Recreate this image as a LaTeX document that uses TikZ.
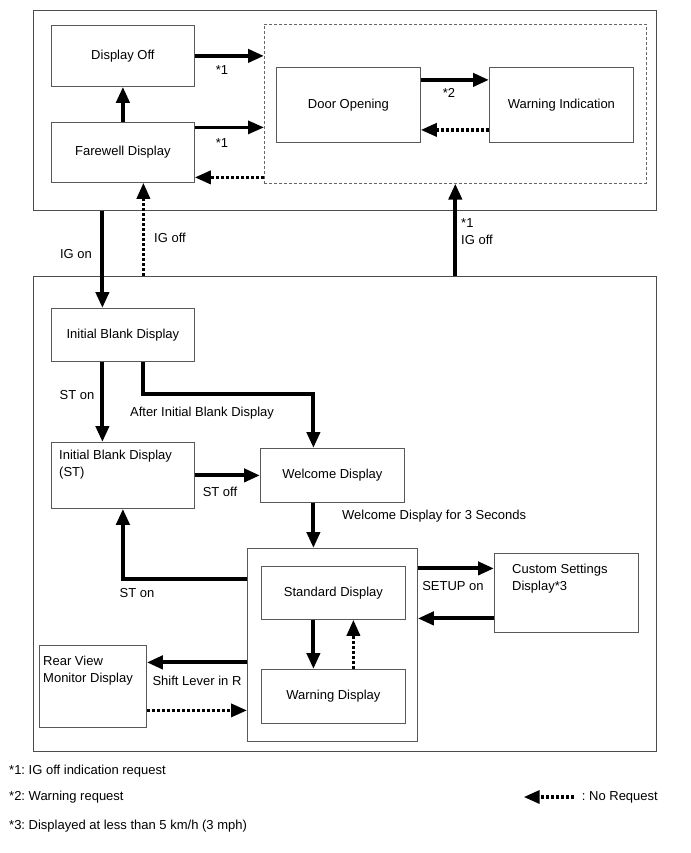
\documentclass[tikz,border=0pt]{standalone}
\usepackage{fontspec}
\setmainfont{Liberation Sans}
\usetikzlibrary{arrows.meta}
\frenchspacing

\tikzset{
  frame/.style={draw=black!70, line width=0.9pt, anchor=north west, inner sep=0pt},
  state/.style={draw=black!65, line width=0.8pt, fill=white, anchor=north west, inner sep=0pt},
  zone/.style={draw=black!60, line width=0.6pt, dash pattern=on 3pt off 2pt, anchor=north west, inner sep=0pt},
  go/.style={-{Triangle[length=16pt,width=13pt]}, line width=4pt},
  norq/.style={-{Triangle[length=16pt,width=13pt]}, line width=3.5pt, dash pattern=on 3pt off 2pt},
  lbl/.style={inner sep=0pt},
  note/.style={inner sep=0pt, anchor=west},
}

\begin{document}
\begin{tikzpicture}[x=1pt, y=-1pt, font=\fontsize{13}{17}\selectfont]
  \useasboundingbox (0,0) rectangle (690,853);

  % outer frames
  \node[frame, minimum width=623pt, minimum height=200pt] (upper) at (33,10) {};
  \node[frame, minimum width=623pt, minimum height=475pt] (lower) at (33,276) {};

  % ignition off states
  \node[state, minimum width=143pt, minimum height=61pt] (off) at (51,25) {Display Off};
  \node[state, minimum width=143pt, minimum height=60pt] (farewell) at (51,122) {Farewell Display};
  \node[zone, minimum width=382pt, minimum height=159pt] (doorzone) at (264,24) {};
  \node[state, minimum width=144pt, minimum height=75pt] (door) at (276,67) {Door Opening};
  \node[state, minimum width=144pt, minimum height=75pt] (warnind) at (489,67) {Warning Indication};

  % ignition on states
  \node[state, minimum width=143pt, minimum height=53pt] (ibd) at (51,308) {Initial Blank Display};
  \node[state, minimum width=143pt, minimum height=66pt] (ibdst) at (51,442) {};
  \node[lbl, anchor=north west, align=left] (ibdsttxt) at ([xshift=8pt, yshift=-8pt]ibdst.north west)
    {Initial Blank Display\\(ST)};
  \node[state, minimum width=144pt, minimum height=54pt] (welcome) at (260,448) {Welcome Display};
  \node[state, minimum width=170pt, minimum height=193pt] (modes) at (247,548) {};
  \node[state, minimum width=144pt, minimum height=53pt] (std) at (261,566) {Standard Display};
  \node[state, minimum width=144pt, minimum height=54pt] (warndisp) at (261,669) {Warning Display};
  \node[state, minimum width=144pt, minimum height=79pt] (custom) at (494,553) {};
  \node[lbl, anchor=north west, align=left] (customtxt) at ([xshift=18pt, yshift=-11pt]custom.north west)
    {Custom Settings\\Display*3};
  \node[state, minimum width=107pt, minimum height=82pt] (rear) at (39,645) {};
  \node[lbl, anchor=north west, align=left] (reartxt) at ([xshift=4pt, yshift=-11pt]rear.north west)
    {Rear View\\Monitor Display};

  % upper transitions
  \coordinate (fwA) at ([yshift=25pt]farewell.east);
  \coordinate (fwB) at ([yshift=-25pt]farewell.east);
  \coordinate (dA) at ([yshift=25pt]door.east);
  \coordinate (dB) at ([yshift=-25pt]door.east);
  \draw[go] (off.east) -- (off.east -| doorzone.west);
  \draw[go, line width=3.2pt] (fwA) -- (fwA -| doorzone.west);
  \draw[norq] (fwB -| doorzone.west) -- (fwB);
  \draw[go] (farewell.north) -- (off.south);
  \draw[go] (dA) -- (dA -| warnind.west);
  \draw[norq] (dB -| warnind.west) -- (dB);
  \node[lbl] (r1a) at (222,70) {*1};
  \node[lbl] (r1b) at (222,143) {*1};
  \node[lbl] (r2) at (449,93) {*2};

  % ignition on / off
  \coordinate (igon) at ([xshift=-20.5pt]ibd.north);
  \coordinate (igoff) at ([xshift=20.5pt]farewell.south);
  \draw[go] (igon |- upper.south) -- (igon);
  \draw[norq] (igoff |- lower.north) -- (igoff);
  \draw[go] (doorzone.south |- lower.north) -- (doorzone.south);
  \node[lbl] (igonlbl) at (76,254) {IG on};
  \node[lbl] (iglbl) at (170,238) {IG off};
  \node[lbl, anchor=west, align=left] (igofflbl) at (461,232) {*1\\IG off};

  % lower transitions
  \coordinate (ibdA) at ([xshift=-20.5pt]ibd.south);
  \coordinate (ibdB) at ([xshift=20.5pt]ibd.south);
  \coordinate (wIn) at ([xshift=-19pt]welcome.north);
  \coordinate (wOut) at ([xshift=-19pt]welcome.south);
  \coordinate (mA) at ([yshift=66pt]modes.west);
  \coordinate (sA) at ([xshift=-20pt]std.south);
  \coordinate (sB) at ([xshift=20pt]std.south);
  \coordinate (cA) at ([yshift=24.5pt]custom.west);
  \coordinate (cB) at ([yshift=-25.5pt]custom.west);
  \coordinate (rA) at ([yshift=24pt]rear.east);
  \coordinate (rB) at ([yshift=-24pt]rear.east);
  \draw[go] (ibdA) -- (ibdA |- ibdst.north);
  \draw[go] (ibdB) -- ++(0,32) -| (wIn);
  \draw[go] (ibdst.east) -- (welcome.west);
  \draw[go] (wOut) -- (wOut |- modes.north);
  \draw[go] (mA) -| (ibdst.south);
  \draw[go] (sA) -- (sA |- warndisp.north);
  \draw[norq] (sB |- warndisp.north) -- (sB);
  \draw[go] (cA -| modes.east) -- (cA);
  \draw[go] (cB) -- (cB -| modes.east);
  \draw[go] (rA -| modes.west) -- (rA);
  \draw[norq] (rB) -- (rB -| modes.west);
  \node[lbl] (ston1) at (77,395) {ST on};
  \node[lbl] (afterlbl) at (202,413) {After Initial Blank Display};
  \node[lbl] (stoff) at (220,492) {ST off};
  \node[lbl, anchor=west] (wlbl) at (342,516) {Welcome Display for 3 Seconds};
  \node[lbl] (ston2) at (137,593) {ST on};
  \node[lbl] (setup) at (453,586) {SETUP on};
  \node[lbl] (shift) at (197,681) {Shift Lever in R};

  % notes and legend
  \node[note] (note1) at (9,771) {*1: IG off indication request};
  \node[note] (note2) at (9,797) {*2: Warning request};
  \node[note] (note3) at (9,826) {*3: Displayed at less than 5 km/h (3 mph)};
  \node[lbl, anchor=east] (legend) at (658,797) {: No Request};
  \draw[norq] ([xshift=-8pt]legend.west) -- ++(-50,0);
\end{tikzpicture}
\end{document}
